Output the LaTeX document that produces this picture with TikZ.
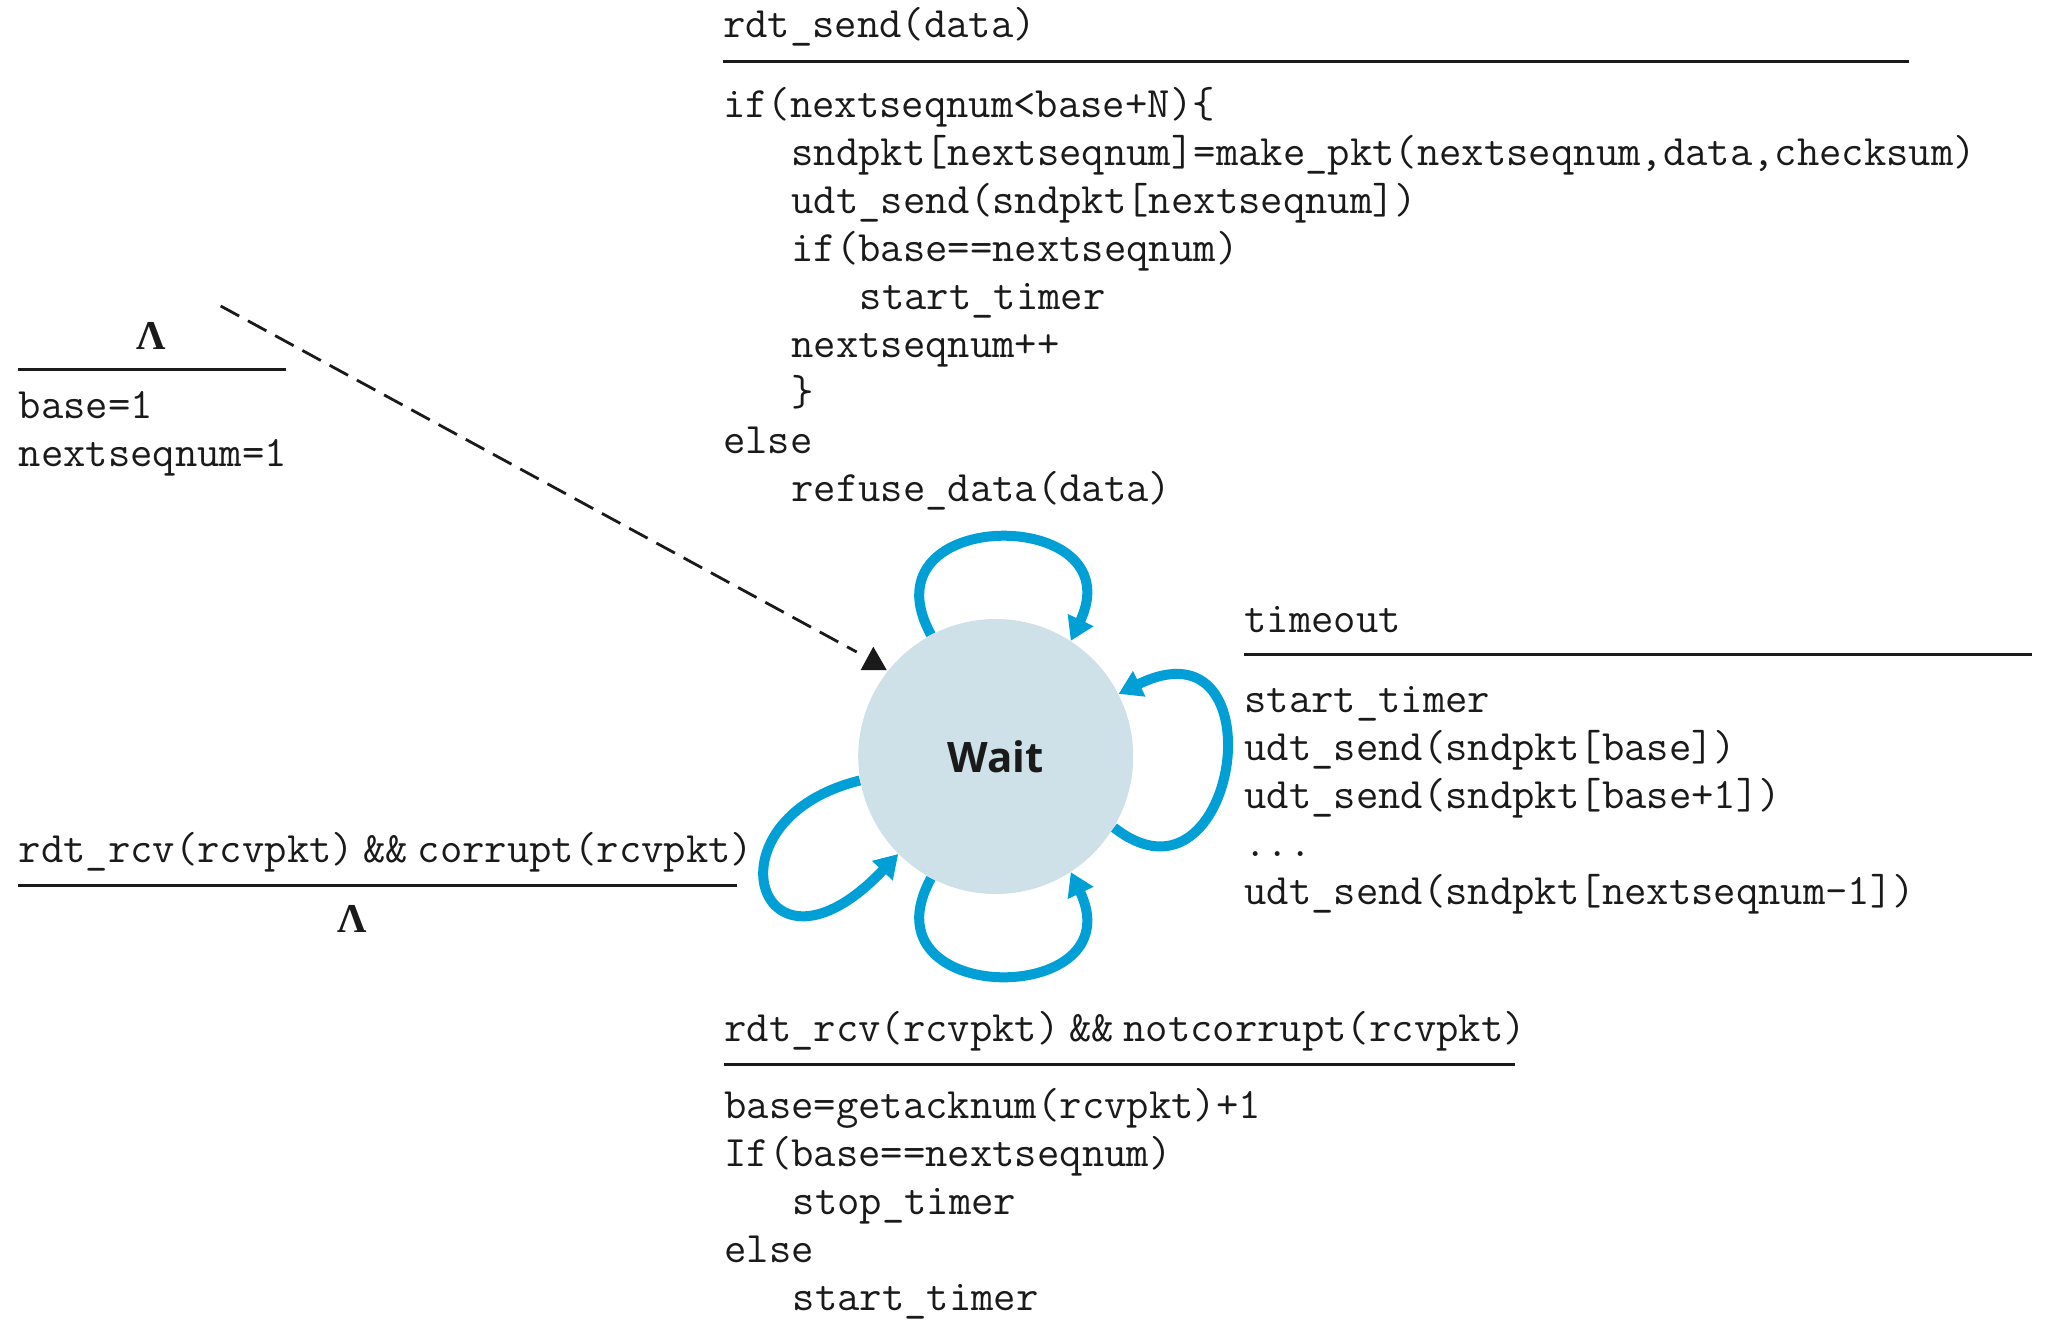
\documentclass[tikz,border=0pt]{standalone}
\usepackage[no-math]{fontspec}
\newfontfamily\waitfont{Open Sans}
\newfontfamily\lamfont{Liberation Serif}
\usetikzlibrary{arrows.meta}
\definecolor{waitfill}{RGB}{206,224,232}
\definecolor{loopblue}{RGB}{0,160,214}
\definecolor{ink}{RGB}{26,26,26}
\pgfdeclarelayer{back}
\pgfsetlayers{back,main}
% three monospace characters of indentation
\newcommand\tab{\hspace*{1.575em}}
% the tighter gap around the && operator
\newcommand\andand{\hspace{0.22em}\&\&\hspace{0.22em}}

\begin{document}
\begin{tikzpicture}[x=0.5pt,y=-0.5pt,
  % multi-line code nodes are anchored on the baseline of their last line
  code/.style={font=\fontsize{21.7pt}{24pt}\selectfont\ttfamily, text=ink,
               inner sep=0pt, align=left, anchor=base west},
  lam/.style={font=\fontsize{20.5pt}{24pt}\selectfont\lamfont\bfseries, text=ink, inner sep=0pt, anchor=base},
  rule/.style={draw=ink, line width=1.5pt},
  selfloop/.style={draw=loopblue, line width=5pt,
                   -{Triangle[length=11.5pt,width=13.5pt]}},
  state/.style={circle, fill=waitfill, minimum size=137.5pt, inner sep=0pt,
                font=\fontsize{21pt}{24pt}\selectfont\waitfont\bfseries, text=ink}]
\useasboundingbox (0,0) rectangle (2060,1328);

% the single sender state
\node[state] (wait) at (995.7,756.5) {Wait};

% self-loops, tucked behind the state
\begin{pgfonlayer}{back}
  \draw[selfloop] (wait.118) .. controls (860,505) and (1135,505) .. (wait.57);
  \draw[selfloop] (wait.-31) .. controls (1238,924.5) and (1282,613.8) .. (wait.27);
  \draw[selfloop] (wait.242) .. controls (860,1008) and (1135,1008) .. (wait.-57);
  \draw[selfloop] (wait.190) .. controls (700,820) and (760,1000) .. (wait.225);
\end{pgfonlayer}

% initial transition
\coordinate (init) at (220.7,306);
\coordinate (initend) at (856.7,652);
\draw[ink, line width=1.4pt, dash pattern=on 10.5pt off 5pt] (init) -- (initend);
\fill[ink] (873.3,646.7) -- (886.7,670) -- (860.7,670) -- cycle;

\node[lam] (initev) at (151,349.5) {Λ};
\draw[rule] (18.3,369) -- (286,369);
\node[code] (initact) at (18.4,466) {base=1\\nextseqnum=1};

% rdt_send
\node[code] (sendev) at (722.6,37) {rdt\_send(data)};
\draw[rule] (722.6,61.7) -- (1909,61.7);
\node[code] (sendact) at (722.6,501.5) {if(nextseqnum<base+N)\{\\
\tab sndpkt[nextseqnum]=make\_pkt(nextseqnum,data,checksum)\\
\tab udt\_send(sndpkt[nextseqnum])\\
\tab if(base==nextseqnum)\\
\tab\tab start\_timer\\
\tab nextseqnum++\\
\tab\}\\
else\\
\tab refuse\_data(data)};

% timeout
\node[code] (toev) at (1244,632.5) {timeout};
\draw[rule] (1244,654.3) -- (2032,654.3);
\node[code] (toact) at (1244,904) {start\_timer\\
udt\_send(sndpkt[base])\\
udt\_send(sndpkt[base+1])\\
...\\
udt\_send(sndpkt[nextseqnum-1])};

% corrupt ACK
\node[code] (corev) at (18.4,862.4) {rdt\_rcv(rcvpkt)\andand corrupt(rcvpkt)};
\draw[rule] (18.4,885.5) -- (737,885.5);
\node[lam] (coract) at (352,932.8) {Λ};

% good ACK
\node[code] (ackev) at (724,1041) {rdt\_rcv(rcvpkt)\andand notcorrupt(rcvpkt)};
\draw[rule] (724,1064) -- (1515,1064);
\node[code] (ackact) at (724,1310.6) {base=getacknum(rcvpkt)+1\\
If(base==nextseqnum)\\
\tab stop\_timer\\
else\\
\tab start\_timer};
\end{tikzpicture}
\end{document}
